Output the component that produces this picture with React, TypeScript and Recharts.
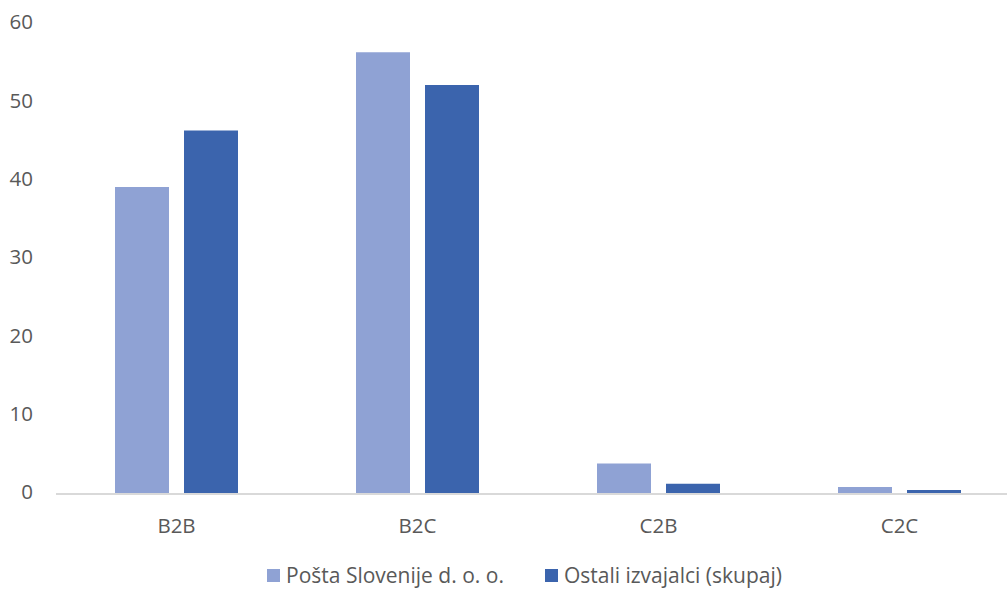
import { Bar, BarChart, Legend, XAxis, YAxis } from 'recharts'

const categories = ['B2B', 'B2C', 'C2B', 'C2C']
const postaValues = [39.2, 56.4, 3.9, 0.9]
const ostaliValues = [46.4, 52.2, 1.3, 0.5]
const yTicks = [0, 10, 20, 30, 40, 50, 60]

const seriesNames = {
  posta: 'Pošta Slovenije d. o. o.',
  ostali: 'Ostali izvajalci (skupaj)',
}

const LIGHT = '#8FA2D4'
const DARK = '#3B64AD'
const TEXT = '#595959'
const FONT = "'Open Sans', sans-serif"

const data = categories.map((name, i) => ({
  name,
  posta: postaValues[i],
  ostali: ostaliValues[i],
}))

const LegendContent = () => (
  <div
    style={{
      display: 'flex',
      justifyContent: 'flex-start',
      paddingLeft: 267,
      fontFamily: FONT,
      fontSize: 21,
      color: TEXT,
      lineHeight: '30px',
      height: 30,
    }}
  >
    {[
      { label: seriesNames.posta, color: LIGHT },
      { label: seriesNames.ostali, color: DARK },
    ].map((item, i) => (
      <div key={item.label} style={{ display: 'flex', alignItems: 'center', marginLeft: i === 0 ? 0 : 41 }}>
        <span style={{ width: 13, height: 13, background: item.color, marginRight: 6, display: 'inline-block' }} />
        <span style={{ whiteSpace: 'nowrap' }}>{item.label}</span>
      </div>
    ))}
  </div>
)

export default function App() {
  return (
    <div
      style={{
        position: 'absolute',
        left: 0,
        top: 0,
        width: 1007,
        height: 590,
        overflow: 'hidden',
        background: '#fff',
        fontFamily: FONT,
      }}
    >
      <BarChart
        width={1020}
        height={590}
        data={data}
        margin={{ top: 24, right: 0, left: 0, bottom: 0 }}
        barSize={54}
        barGap={15}
      >
        <YAxis
          domain={[0, 60]}
          ticks={yTicks}
          axisLine={false}
          tickLine={false}
          width={56}
          tickMargin={17}
          tick={{ fill: TEXT, fontSize: 20.5, fontFamily: FONT, dy: -2 }}
        />
        <XAxis
          dataKey="name"
          axisLine={{ stroke: '#d9d9d9', strokeWidth: 2 }}
          tickLine={false}
          tickMargin={18}
          height={66}
          tick={{ fill: TEXT, fontSize: 20.5, fontFamily: FONT }}
        />
        <Legend verticalAlign="bottom" content={<LegendContent />} />
        <Bar dataKey="posta" name={seriesNames.posta} fill={LIGHT} isAnimationActive={false} />
        <Bar dataKey="ostali" name={seriesNames.ostali} fill={DARK} isAnimationActive={false} />
      </BarChart>
    </div>
  )
}
